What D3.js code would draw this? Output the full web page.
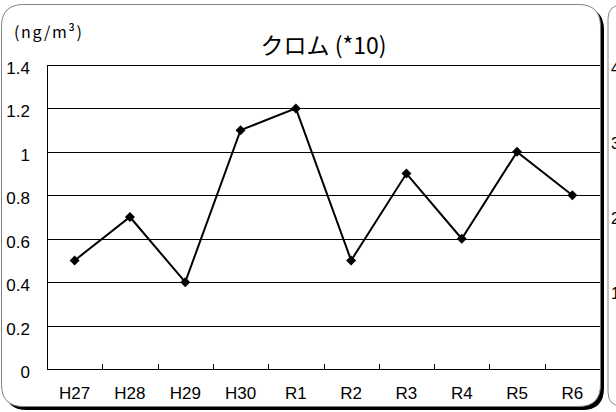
<!DOCTYPE html>
<html>
<head>
<meta charset="utf-8">
<script src="https://cdn.jsdelivr.net/npm/d3@7"></script>
<style>
  body { margin: 0; background: #fff; }
  svg { display: block; }
</style>
</head>
<body>
<svg width="616" height="412"></svg>
<script>
// data
const years = ["H27", "H28", "H29", "H30", "R1", "R2", "R3", "R4", "R5", "R6"];
const values = [0.5, 0.7, 0.4, 1.1, 1.2, 0.5, 0.9, 0.6, 1.0, 0.8];
const yTicks = [0, 0.2, 0.4, 0.6, 0.8, 1, 1.2, 1.4];
// labels of the neighbouring chart, cut off at the right edge
const nextTicks = ["4", "3", "2", "1"];

const svg = d3.select("svg");

const numFont = "'Liberation Sans', Arial, sans-serif";
const jpFont = "'Noto Sans CJK JP', 'Noto Sans', sans-serif";

// plot area
const plotLeft = 47, plotRight = 600, plotTop = 65, plotBottom = 369;

// rounded rectangle path
function roundRect(x0, y0, x1, y1, r) {
    return `M${x0 + r},${y0} H${x1 - r} Q${x1},${y0} ${x1},${y0 + r} V${y1 - r} Q${x1},${y1} ${x1 - r},${y1} H${x0 + r} Q${x0},${y1} ${x0},${y1 - r} V${y0 + r} Q${x0},${y0} ${x0 + r},${y0} Z`;
}

// neighbouring frame (only its left edge shows)
svg.append("path")
    .attr("d", roundRect(608, 5, 900, 406, 14))
    .attr("fill", "#fff")
    .attr("stroke", "#888")
    .attr("stroke-width", 1);

svg.selectAll("text.next")
    .data(nextTicks)
    .enter()
    .append("text")
    .attr("class", "next")
    .attr("x", 611)
    .attr("y", (d, i) => 74 + i * 75)
    .attr("font-family", numFont)
    .attr("font-size", 16)
    .text(d => d);

// frame shadow, then frame
svg.append("path")
    .attr("d", roundRect(5, 8, 604, 410, 22))
    .attr("fill", "#000");

svg.append("path")
    .attr("d", roundRect(1.5, 4.5, 600.5, 406.5, 22))
    .attr("fill", "#fff")
    .attr("stroke", "#808080")
    .attr("stroke-width", 1);

// scales
const x = d3.scaleBand()
    .domain(years)
    .range([plotLeft, plotRight]);

const y = d3.scaleLinear()
    .domain([0, 1.4])
    .range([plotBottom, plotTop]);

// gridlines
svg.append("g")
    .selectAll("line")
    .data(yTicks)
    .enter()
    .append("line")
    .attr("x1", plotLeft)
    .attr("x2", plotRight)
    .attr("y1", d => Math.round(y(d)) + 0.5)
    .attr("y2", d => Math.round(y(d)) + 0.5)
    .attr("stroke", "#000")
    .attr("stroke-width", 1);

// y axis line
svg.append("line")
    .attr("x1", plotLeft + 0.5)
    .attr("x2", plotLeft + 0.5)
    .attr("y1", Math.round(y(1.4)))
    .attr("y2", Math.round(y(0)) + 1)
    .attr("stroke", "#000");

// y labels
svg.append("g")
    .selectAll("text")
    .data(yTicks)
    .enter()
    .append("text")
    .attr("x", 30)
    .attr("y", d => y(d) + 9)
    .attr("text-anchor", "end")
    .attr("font-family", numFont)
    .attr("font-size", 17)
    .attr("fill", "#000")
    .text(d => d);

// x ticks at band edges, pointing up
const edges = years.map(d => x(d)).concat([plotRight]);
svg.append("g")
    .selectAll("line")
    .data(edges.slice(1, -1))
    .enter()
    .append("line")
    .attr("x1", d => Math.round(d) + 0.5)
    .attr("x2", d => Math.round(d) + 0.5)
    .attr("y1", Math.round(y(0)))
    .attr("y2", Math.round(y(0)) - 5)
    .attr("stroke", "#000");

// x labels
svg.append("g")
    .selectAll("text")
    .data(years)
    .enter()
    .append("text")
    .attr("x", d => x(d) + x.bandwidth() / 2)
    .attr("y", 399)
    .attr("text-anchor", "middle")
    .attr("font-family", numFont)
    .attr("font-size", 17)
    .attr("fill", "#000")
    .text(d => d);

// series line
const pts = years.map((d, i) => ({ year: d, value: values[i] }));

const line = d3.line()
    .x(d => x(d.year) + x.bandwidth() / 2)
    .y(d => y(d.value));

svg.append("path")
    .datum(pts)
    .attr("d", line)
    .attr("fill", "none")
    .attr("stroke", "#000")
    .attr("stroke-width", 2)
    .attr("stroke-linejoin", "miter");

// diamond markers
svg.append("g")
    .selectAll("path")
    .data(pts)
    .enter()
    .append("path")
    .attr("transform", d => "translate(" + (x(d.year) + x.bandwidth() / 2) + "," + y(d.value) + ")")
    .attr("d", "M0,-5 L5,0 L0,5 L-5,0 Z")
    .attr("fill", "#000");

// title and unit
svg.append("text")
    .attr("x", (plotLeft + plotRight) / 2)
    .attr("y", 54)
    .attr("text-anchor", "middle")
    .attr("font-family", jpFont)
    .attr("font-size", 23)
    .attr("fill", "#000")
    .text("クロム (*10)");

svg.append("text")
    .attr("x", 14)
    .attr("y", 38)
    .attr("font-family", jpFont)
    .attr("font-size", 16)
    .attr("textLength", 68)
    .attr("lengthAdjust", "spacing")
    .attr("fill", "#000")
    .text("(ng/m³)");
</script>
</body>
</html>
